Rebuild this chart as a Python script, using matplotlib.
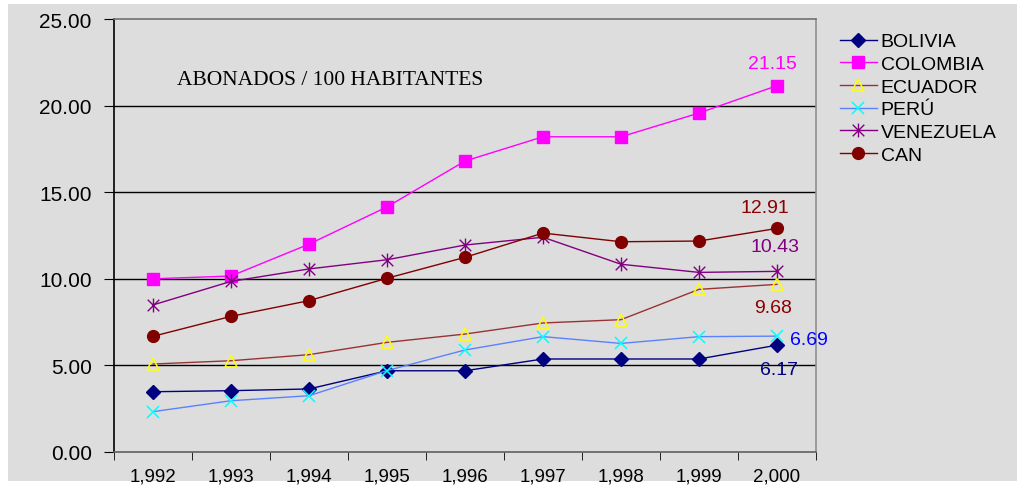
import matplotlib
matplotlib.use('Agg')
from matplotlib import pyplot as plt
from matplotlib.patches import Rectangle
from matplotlib.path import Path

years = ['1,992', '1,993', '1,994', '1,995', '1,996', '1,997', '1,998', '1,999', '2,000']
bolivia = [3.48, 3.54, 3.64, 4.69, 4.69, 5.37, 5.37, 5.37, 6.17]
colombia = [10.0, 10.16, 12.0, 14.15, 16.8, 18.2, 18.2, 19.57, 21.15]
ecuador = [5.08, 5.27, 5.62, 6.33, 6.81, 7.45, 7.64, 9.39, 9.68]
peru = [2.33, 2.96, 3.25, 4.7, 5.89, 6.66, 6.27, 6.66, 6.69]
venezuela = [8.49, 9.85, 10.57, 11.1, 11.95, 12.4, 10.84, 10.37, 10.43]
can = [6.68, 7.83, 8.74, 10.03, 11.24, 12.64, 12.14, 12.18, 12.91]

BG = '#dddddd'

# excel style star: an X with a vertical bar through it
star = Path([(-1, -1), (1, 1), (-1, 1), (1, -1), (0, -1.2), (0, 1.2)],
            [Path.MOVETO, Path.LINETO, Path.MOVETO, Path.LINETO, Path.MOVETO, Path.LINETO])

fig = plt.figure(figsize=(10.17, 4.89), dpi=100)
fig.patches.append(Rectangle((8 / 1017, 7 / 489), 1 - 8 / 1017, (482 - 5) / 489,
                             transform=fig.transFigure, facecolor=BG,
                             edgecolor='none', zorder=-10))
ax = fig.add_axes([114 / 1017, 36 / 489, 702 / 1017, 433 / 489])
ax.set_facecolor(BG)

x = list(range(len(years)))
lw = 1.0
ax.plot(x, bolivia, color='#000080', lw=lw, marker='D', ms=7.5,
        mfc='#000080', mec='#000080', label='BOLIVIA', zorder=5)
ax.plot(x, colombia, color='#ff00ff', lw=lw, marker='s', ms=8.5,
        mfc='#ff00ff', mec='#ff00ff', label='COLOMBIA', zorder=5)
ax.plot(x, ecuador, color='#993333', lw=lw, marker='^', ms=9,
        mfc='none', mec='#ffff00', mew=1.1, label='ECUADOR', zorder=5)
ax.plot(x, peru, color='#5a82ff', lw=lw, marker='x', ms=9,
        mec='#00ffff', mew=1.1, label='PERÚ', zorder=5)
ax.plot(x, venezuela, color='#800080', lw=lw, marker=star, ms=10,
        mec='#800080', mew=1.0, label='VENEZUELA', zorder=5)
ax.plot(x, can, color='#800000', lw=lw, marker='o', ms=8.5,
        mfc='#800000', mec='#800000', label='CAN', zorder=5)

ax.set_xlim(-0.5, len(years) - 0.5)
ax.set_ylim(0, 25)
ax.set_yticks([0, 5, 10, 15, 20, 25])
ax.set_yticklabels(['%.2f' % v for v in [0, 5, 10, 15, 20, 25]],
                   fontsize=15, family='Liberation Sans')
ax.set_xticks(x)
ax.set_xticklabels(years, fontsize=13.5, family='Liberation Sans')
ax.set_xticks([i - 0.5 for i in range(len(years) + 1)], minor=True)
ax.tick_params(axis='x', which='major', length=0, pad=11)
ax.tick_params(axis='x', which='minor', length=6, color='black')
ax.tick_params(axis='y', length=7, color='black', pad=9)

for v in [5, 10, 15, 20]:
    ax.axhline(v, color='black', lw=1.0, zorder=1)
ax.spines['top'].set_color('#707070')
ax.spines['right'].set_color('#909090')
ax.spines['left'].set_color('black')
ax.spines['bottom'].set_color('#606060')
for s in ax.spines.values():
    s.set_linewidth(1.2)

ax.text(2.27, 21.5, 'ABONADOS / 100 HABITANTES', ha='center', va='center',
        fontsize=15.5, family='Liberation Serif')

lab_font = dict(fontsize=14, family='Liberation Sans')
last = len(years) - 1
ax.annotate('21.15', (last, colombia[-1]), xytext=(-5, 22), textcoords='offset pixels',
            ha='center', va='center', color='#ff00ff', **lab_font)
ax.annotate('12.91', (last, can[-1]), xytext=(-12, 21), textcoords='offset pixels',
            ha='center', va='center', color='#8b0000', **lab_font)
ax.annotate('10.43', (last, venezuela[-1]), xytext=(-2, 25), textcoords='offset pixels',
            ha='center', va='center', color='#800080', **lab_font)
ax.annotate('9.68', (last, ecuador[-1]), xytext=(-4, -23), textcoords='offset pixels',
            ha='center', va='center', color='#8b0000', **lab_font)
ax.annotate('6.69', (last, peru[-1]), xytext=(13, -3), textcoords='offset pixels',
            ha='left', va='center', color='#0000ff', **lab_font)
ax.annotate('6.17', (last, bolivia[-1]), xytext=(2, -24), textcoords='offset pixels',
            ha='center', va='center', color='#000080', **lab_font)

leg = fig.legend(loc='upper left', bbox_to_anchor=(832 / 1017, 1 - 26 / 489),
                 frameon=False, prop={'family': 'Liberation Sans', 'size': 14},
                 handlelength=1.9, handletextpad=0.2, labelspacing=0.26,
                 borderaxespad=0)

fig.savefig('out.png', dpi=100)
